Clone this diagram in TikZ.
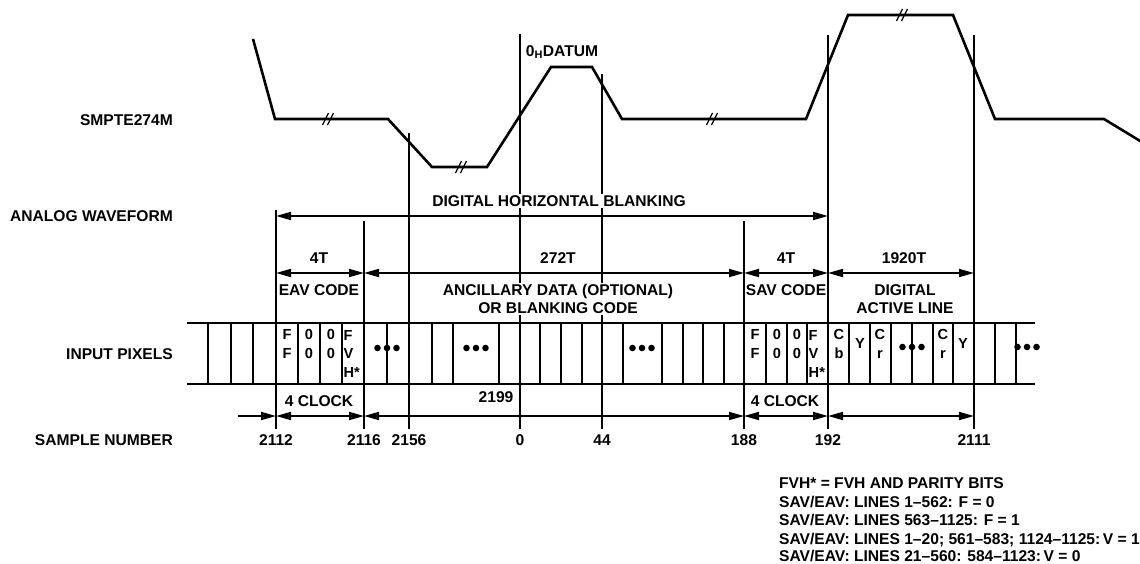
\documentclass[tikz,border=0pt]{standalone}
\usepackage{fontspec}
\setmainfont{Liberation Sans}
\usetikzlibrary{arrows.meta, positioning}
\newcommand{\figfont}{\fontsize{15.6}{18}\selectfont\bfseries}
\newcommand{\cellfont}{\fontsize{14.6}{18.5}\selectfont\bfseries}

\begin{document}
\begin{tikzpicture}[
    x=1pt, y=-1pt,
    wave/.style={line width=2.6pt, line join=miter},
    guide/.style={line width=1.2pt},
    rail/.style={line width=2.6pt},
    divider/.style={line width=1.6pt},
    dimarrow/.style={line width=1.8pt, {Triangle[length=15pt,width=8pt]}-{Triangle[length=15pt,width=8pt]}},
    onearrow/.style={line width=1.8pt, -{Triangle[length=15pt,width=8pt]}},
    rowlabel/.style={anchor=east, inner sep=0pt, font=\figfont},
    txt/.style={inner sep=0pt, font=\figfont, align=center},
    masked/.style={inner sep=1.5pt, fill=white, font=\figfont, align=center},
    num/.style={inner sep=0pt, font=\figfont},
    cell/.style={inner sep=0pt, font=\cellfont, align=center},
    note/.style={anchor=base west, inner sep=0pt, font=\figfont},
    brk/.pic={\draw[line width=1.3pt] (-5.5,6) -- (0.5,-6) (-0.5,6) -- (5.5,-6);},
    dots/.pic={\fill (-9.5,0) circle (3.3pt) (0,0) circle (3.3pt) (9.5,0) circle (3.3pt);}
]
\useasboundingbox (0,0) rectangle (1140,563);
\clip (0,0) rectangle (1140,563);

% Row labels (left)
\node[rowlabel] (smpte) at (173,120) {SMPTE274M};
\node[rowlabel] (analog) at (173,216) {ANALOG WAVEFORM};
\node[rowlabel] (pixels) at (173,354) {INPUT PIXELS};
\node[rowlabel] (sample) at (173,440) {SAMPLE NUMBER};

% Analog waveform
\draw[wave] (253,39) -- (275,119) -- (388,119) -- (432,167) -- (487,167)
    -- (551,67) -- (592,67) -- (622,119) -- (806,119) -- (848,15)
    -- (953,15) -- (995,119) -- (1104,119) -- (1150,147);
\pic at (328,119) {brk};
\pic at (461,167) {brk};
\pic at (712,119) {brk};
\pic at (902,15) {brk};

% Sample positions and levels
\coordinate (s2112) at (276,429);
\coordinate (s2116) at (364,429);
\coordinate (s2156) at (409,429);
\coordinate (s0) at (520,429);
\coordinate (s44) at (602,429);
\coordinate (s188) at (744,429);
\coordinate (s192) at (828,429);
\coordinate (s2111) at (974,429);
\coordinate (lvlBlank) at (0,216);
\coordinate (lvlCode) at (0,273);
\coordinate (lvlClock) at (0,416);
\coordinate (clkstart) at (238,416);

% Timing guides
\draw[guide] (s2112) -- ++(0,-219);
\draw[guide] (s2116) -- ++(0,-208);
\draw[guide] (s2156) -- ++(0,-296);
\draw[guide] (s0) -- ++(0,-395);
\draw[guide] (s44) -- ++(0,-355);
\draw[guide] (s188) -- ++(0,-208);
\draw[guide] (s192) -- ++(0,-394);
\draw[guide] (s2111) -- ++(0,-394);

\node[txt] (datum) at (562,52) {0\textsubscript{H}DATUM};

% Digital horizontal blanking
\node[masked] (dhb) at (559,201) {DIGITAL HORIZONTAL BLANKING};
\draw[dimarrow] (s2112 |- lvlBlank) -- (s192 |- lvlBlank);

% Code and data spans
\draw[dimarrow] (s2112 |- lvlCode) -- (s2116 |- lvlCode);
\draw[dimarrow] (s2116 |- lvlCode) -- (s188 |- lvlCode);
\draw[dimarrow] (s188 |- lvlCode) -- (s192 |- lvlCode);
\draw[dimarrow] (s192 |- lvlCode) -- (s2111 |- lvlCode);
\node[txt] (eavT) at (319,258) {4T};
\node[txt] (ancT) at (558,258) {272T};
\node[txt] (savT) at (786,258) {4T};
\node[txt] (actT) at (904,258) {1920T};
\node[txt] (eav) at (319,290) {EAV CODE};
\node[masked] (anc) at (558,299) {ANCILLARY DATA (OPTIONAL)\\OR BLANKING CODE};
\node[txt] (sav) at (786,290) {SAV CODE};
\node[txt] (act) at (905,299) {DIGITAL\\ACTIVE LINE};

% Input pixels
\draw[rail] (187,323) -- (1035,323);
\draw[rail] (187,384) -- (1035,384);
\draw[divider] (208,323) -- (208,384) (231,323) -- (231,384) (253,323) -- (253,384)
    (276,323) -- (276,384) (298,323) -- (298,384) (320,323) -- (320,384)
    (342,323) -- (342,384) (364,323) -- (364,384) (387,323) -- (387,384)
    (409,323) -- (409,384) (432,323) -- (432,384) (453,323) -- (453,384)
    (499,323) -- (499,384) (520,323) -- (520,384) (540,323) -- (540,384)
    (561,323) -- (561,384) (582,323) -- (582,384) (602,323) -- (602,384)
    (623,323) -- (623,384) (662,323) -- (662,384) (683,323) -- (683,384)
    (703,323) -- (703,384) (724,323) -- (724,384) (744,323) -- (744,384)
    (766,323) -- (766,384) (787,323) -- (787,384) (807,323) -- (807,384)
    (828,323) -- (828,384) (849,323) -- (849,384) (870,323) -- (870,384)
    (891,323) -- (891,384) (912,323) -- (912,384) (933,323) -- (933,384)
    (953,323) -- (953,384) (974,323) -- (974,384) (995,323) -- (995,384)
    (1016,323) -- (1016,384);

\node[cell] (eavF) at (287,344) {F\\F};
\node[cell] (eav0a) at (309,344) {0\\0};
\node[cell] (eav0b) at (331,344) {0\\0};
\node[cell, anchor=west, align=left] (eavX) at (343.5,353.5) {F\\V\\H*};
\node[cell] (savF) at (755,344) {F\\F};
\node[cell] (sav0a) at (777,344) {0\\0};
\node[cell] (sav0b) at (797,344) {0\\0};
\node[cell, anchor=west, align=left] (savX) at (808.5,353.5) {F\\V\\H*};
\node[cell] (cb) at (839,344) {C\\b};
\node[cell] (y1) at (860,343) {Y};
\node[cell] (cr1) at (880,344) {C\\r};
\node[cell] (cr2) at (943,344) {C\\r};
\node[cell] (y2) at (963,343) {Y};
\pic at (387,348) {dots};
\pic at (476,348) {dots};
\pic at (642,348) {dots};
\pic at (912,347) {dots};
\pic at (1027,347) {dots};

% Sample numbers
\draw[onearrow] (clkstart) -- (s2112 |- lvlClock);
\draw[dimarrow] (s2112 |- lvlClock) -- (s2116 |- lvlClock);
\draw[dimarrow] (s2116 |- lvlClock) -- (s188 |- lvlClock);
\draw[dimarrow] (s188 |- lvlClock) -- (s192 |- lvlClock);
\draw[dimarrow] (s192 |- lvlClock) -- (s2111 |- lvlClock);
\node[txt] (clkA) at (319,401) {4 CLOCK};
\node[txt] (clkB) at (785,401) {4 CLOCK};
\node[txt] (n2199) at (496,397) {2199};

\node[num, below=5.5pt of s2112] (n2112) {2112};
\node[num, below=5.5pt of s2116] (n2116) {2116};
\node[num, below=5.5pt of s2156] (n2156) {2156};
\node[num, below=5.5pt of s0] (n0) {0};
\node[num, below=5.5pt of s44] (n44) {44};
\node[num, below=5.5pt of s188] (n188) {188};
\node[num, below=5.5pt of s192] (n192) {192};
\node[num, below=5.5pt of s2111] (n2111) {2111};

% Notes
\node[note] (note1) at (779,488.5) {FVH* = FVH AND PARITY BITS};
\node[note] (note2) at (779,507) {SAV/EAV: LINES 1--562: F = 0};
\node[note] (note3) at (779,525.5) {SAV/EAV: LINES 563--1125: F = 1};
\node[note] (note4) at (779,544) {SAV/EAV: LINES 1--20; 561--583; 1124--1125:\,V = 1};
\node[note] (note5) at (779,561.5) {SAV/EAV: LINES 21--560: 584--1123:\,V = 0};

\end{tikzpicture}
\end{document}
